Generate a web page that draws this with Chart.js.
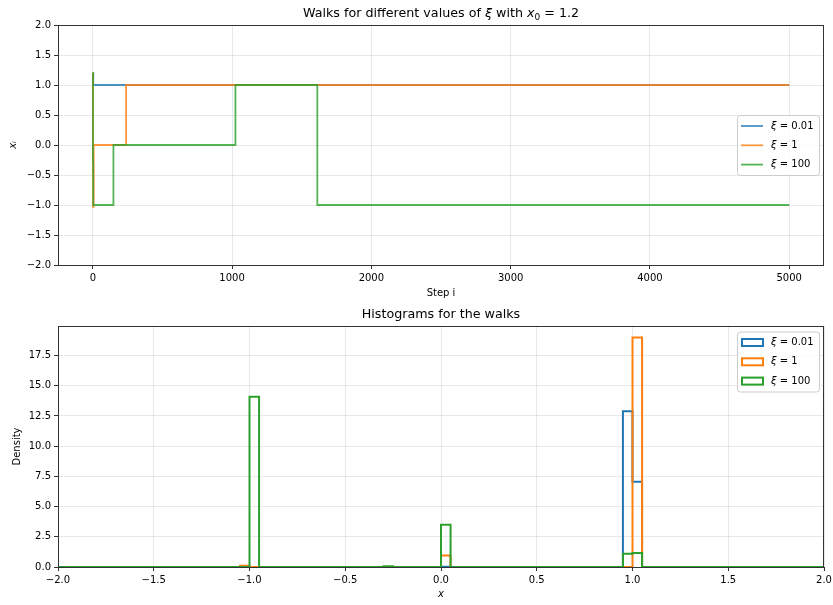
<!DOCTYPE html>
<html>
<head>
<meta charset="utf-8">
<script src="https://cdn.jsdelivr.net/npm/chart.js@4.4.1/dist/chart.umd.min.js"></script>
<style>
html, body { margin: 0; padding: 0; background: #fff; }
#wrap { position: relative; width: 833px; height: 605px; }
.box { position: absolute; left: 0; width: 833px; }
</style>
</head>
<body>
<div id="wrap">
  <div class="box" style="top:0;height:302px"><canvas id="walks"></canvas></div>
  <div class="box" style="top:302px;height:303px"><canvas id="hist"></canvas></div>
</div>
<script>
// legend labels (values of xi)
const xiLabels = ['0.01', '1', '100'];
const colors = ['31,119,180', '255,127,14', '44,160,44'];

// walks: step where the value changes, and the value held from there on
const blueSteps = [0, 3, 5000];
const blueVals = [1.2, 1.0, 1.0];
const orangeSteps = [0, 1, 6, 239, 5000];
const orangeVals = [1.2, -1.03, 0.0, 1.0, 1.0];
const greenSteps = [0, 1, 3, 148, 1024, 1612, 5000];
const greenVals = [1.2, -0.28, -1.0, 0.0, 1.0, -1.0, -1.0];

const walkXTicks = [0, 1000, 2000, 3000, 4000, 5000];
const walkYTicks = [-2.0, -1.5, -1.0, -0.5, 0.0, 0.5, 1.0, 1.5, 2.0];

// histograms: bins of width 0.05 on [-2, 2], only non-empty bins listed
const histLo = -2, histHi = 2, binW = 0.05;
const binStart = [-1.05, -1.0, -0.3, 0.0, 0.95, 1.0];
const densBlue = [0, 0, 0, 0.02, 12.9, 7.05];
const densOrange = [0.1, 0, 0, 0.95, 0, 19.0];
const densGreen = [0, 14.1, 0.06, 3.5, 1.1, 1.15];

const histXTicks = [-2.0, -1.5, -1.0, -0.5, 0.0, 0.5, 1.0, 1.5, 2.0];
const histYTicks = [0, 2.5, 5.0, 7.5, 10.0, 12.5, 15.0, 17.5];

Chart.defaults.font.family = '"DejaVu Sans"';
Chart.defaults.font.size = 10;
Chart.defaults.color = '#000';
Chart.defaults.animation = false;

function walkPoints(steps, vals) {
    return steps.map((s, i) => ({ x: s, y: vals[i] }));
}

function histOutline(dens) {
    const n = Math.round((histHi - histLo) / binW);
    const h = new Array(n).fill(0);
    binStart.forEach((b, k) => { h[Math.round((b - histLo) / binW)] = dens[k]; });
    const pts = [{ x: histLo, y: 0 }];
    for (let i = 0; i < n; i++) {
        const left = histLo + i * binW;
        pts.push({ x: left, y: h[i] }, { x: left + binW, y: h[i] });
    }
    pts.push({ x: histHi, y: 0 });
    return pts;
}

function fmt(v) {
    return v.toFixed(1).replace('-', '\u2212');
}

// text made of plain / italic / subscript pieces
function drawRich(ctx, parts, x, y, size, align) {
    const fontOf = p => (p[1] === 'i' ? 'italic ' : '') +
        (p[1] === 'sub' ? Math.round(size * 0.7) : size) + 'px "DejaVu Sans"';
    let w = 0;
    parts.forEach(p => { ctx.font = fontOf(p); w += ctx.measureText(p[0]).width; });
    let cx = align === 'center' ? x - w / 2 : x;
    ctx.textAlign = 'left';
    ctx.textBaseline = 'middle';
    ctx.fillStyle = '#000';
    parts.forEach(p => {
        ctx.font = fontOf(p);
        ctx.fillText(p[0], cx, p[1] === 'sub' ? y + size * 0.3 : y);
        cx += ctx.measureText(p[0]).width;
    });
}

// frame, title and legend drawn the matplotlib way
const decor = {
    id: 'decor',
    afterDraw(chart, args, opts) {
        const ctx = chart.ctx;
        const a = chart.chartArea;
        ctx.save();
        ctx.strokeStyle = '#333';
        ctx.lineWidth = 1;
        ctx.strokeRect(Math.round(a.left) + 0.5, Math.round(a.top) + 0.5,
            Math.round(a.right - a.left) - 1, Math.round(a.bottom - a.top));

        drawRich(ctx, opts.title, (a.left + a.right) / 2, a.top - 11.5, 12.7, 'center');

        const bw = 82, bh = 60;
        const bx = a.right - 5 - bw;
        const by = opts.loc === 'top' ? a.top + 5.5 : (a.top + a.bottom) / 2 - bh / 2;
        ctx.beginPath();
        ctx.roundRect(bx + 0.5, by + 0.5, bw, bh, 3);
        ctx.fillStyle = 'rgba(255,255,255,0.8)';
        ctx.fill();
        ctx.strokeStyle = '#cccccc';
        ctx.stroke();

        xiLabels.forEach((lab, i) => {
            const ey = by + 11 + i * 19.3;
            if (opts.loc === 'top') {
                ctx.strokeStyle = 'rgb(' + colors[i] + ')';
                ctx.lineWidth = 2;
                ctx.strokeRect(bx + 5, ey - 3.5, 21, 7);
            } else {
                ctx.strokeStyle = 'rgba(' + colors[i] + ',0.8)';
                ctx.lineWidth = 1.8;
                ctx.beginPath();
                ctx.moveTo(bx + 4, ey);
                ctx.lineTo(bx + 26, ey);
                ctx.stroke();
            }
            drawRich(ctx, [['\u03be', 'i'], [' = ' + lab, '']], bx + 34, ey, 10, 'left');
        });
        ctx.restore();
    }
};

function axis(min, max, ticks, fixed, titleText, titleStyle, titlePad) {
    return {
        type: 'linear',
        min: min,
        max: max,
        afterBuildTicks: s => { s.ticks = ticks.map(v => ({ value: v })); },
        afterFit: s => {
            if (s.isHorizontal()) {
                s.height = fixed;
                s.paddingLeft = 0;
                s.paddingRight = 0;
            } else {
                s.width = fixed;
            }
        },
        ticks: { callback: v => titleStyle === 'num' ? String(v) : fmt(v), padding: 3, autoSkip: false, maxRotation: 0, color: '#000' },
        grid: { color: 'rgba(0,0,0,0.09)', tickColor: '#333', tickLength: 4, drawTicks: true },
        border: { display: false },
        title: { display: true, text: titleText, padding: { top: titlePad, bottom: titlePad },
            font: { style: titleStyle === 'italic' ? 'italic' : 'normal', size: 10 } }
    };
}

const walkSets = [
    [blueSteps, blueVals], [orangeSteps, orangeVals], [greenSteps, greenVals]
].map((d, i) => ({
    label: xiLabels[i],
    data: walkPoints(d[0], d[1]),
    borderColor: 'rgba(' + colors[i] + ',0.8)',
    borderWidth: 1.8,
    showLine: true,
    stepped: 'before',
    pointRadius: 0,
    fill: false,
    order: 2 - i
}));

new Chart(document.getElementById('walks'), {
    type: 'scatter',
    data: { datasets: walkSets },
    options: {
        responsive: true,
        maintainAspectRatio: false,
        layout: { padding: { top: 25, right: 9, left: 0, bottom: 0 } },
        plugins: {
            legend: { display: false },
            tooltip: { enabled: false },
            decor: {
                loc: 'center',
                title: [['Walks for different values of ', ''], ['\u03be', 'i'], [' with ', ''],
                    ['x', 'i'], ['0', 'sub'], [' = 1.2', '']]
            }
        },
        scales: {
            x: axis(-250, 5250, walkXTicks, 37, 'Step i', 'num', 3),
            y: axis(-2, 2, walkYTicks, 58, 'x\u1d62', 'italic', 7)
        }
    },
    plugins: [decor]
});

const histSets = [densBlue, densOrange, densGreen].map((d, i) => ({
    label: xiLabels[i],
    data: histOutline(d),
    borderColor: 'rgb(' + colors[i] + ')',
    borderWidth: 2,
    showLine: true,
    pointRadius: 0,
    fill: false,
    order: 2 - i
}));

new Chart(document.getElementById('hist'), {
    type: 'scatter',
    data: { datasets: histSets },
    options: {
        responsive: true,
        maintainAspectRatio: false,
        layout: { padding: { top: 24, right: 9, left: 0, bottom: 0 } },
        plugins: {
            legend: { display: false },
            tooltip: { enabled: false },
            decor: { loc: 'top', title: [['Histograms for the walks', '']] }
        },
        scales: {
            x: axis(histLo, histHi, histXTicks, 38, 'x', 'italic', 5),
            y: axis(0, 19.95, histYTicks, 58, 'Density', 'plain', 11)
        }
    },
    plugins: [decor]
});
</script>
</body>
</html>
